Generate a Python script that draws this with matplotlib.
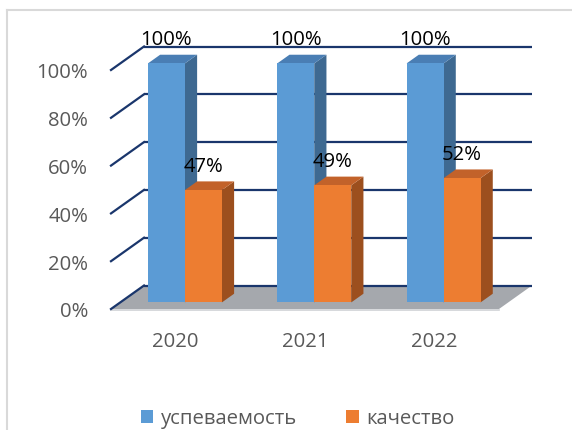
import matplotlib
matplotlib.use("Agg")
import matplotlib.pyplot as plt
from matplotlib.patches import Polygon, Patch
from matplotlib.lines import Line2D

categories = ["2020", "2021", "2022"]
series_names = ["успеваемость", "качество"]
uspevaemost = [100, 100, 100]
kachestvo = [47, 49, 52]
tick_values = [0, 20, 40, 60, 80, 100]
tick_labels = ["0%", "20%", "40%", "60%", "80%", "100%"]

plt.rcParams['font.family'] = ['Open Sans', 'DejaVu Sans']
FS = 14.6

W, H = 572, 431
fig = plt.figure(figsize=(W / 100, H / 100), dpi=100)
fig.patch.set_facecolor('white')

# front plane of the 3D box
L, R, B, T = 111, 499, 310, 71
ax = fig.add_axes([L / W, (H - B) / H, (R - L) / W, (B - T) / H])
ax.set_xlim(-0.5, len(categories) - 0.5)
ax.set_ylim(0, 100)
ax.patch.set_visible(False)
for s in ax.spines.values():
    s.set_visible(False)

cat_px = (R - L) / len(categories)
pct_px = (B - T) / 100.0
DX = 33 / cat_px        # depth offset (data units) for full depth
DY = 23.5 / pct_px

grid_c = '#1A366C'
floor_c = '#A5A8AD'

x0, x1 = -0.5, len(categories) - 0.5
# floor
ax.add_patch(Polygon([(x0, 0), (x1, 0), (x1 + DX, DY), (x0 + DX, DY)],
                     closed=True, facecolor=floor_c, edgecolor='none',
                     clip_on=False, zorder=1))
ax.add_line(Line2D([x0, x1], [-0.4, -0.4], color='#D0D2D5', lw=1.2,
                   clip_on=False, zorder=1))
# gridlines on back wall and side wall
for v in tick_values:
    ax.add_line(Line2D([x0 + DX, x1 + DX], [v + DY, v + DY], color=grid_c,
                       lw=1.6, clip_on=False, zorder=2, solid_capstyle='butt'))
    ax.add_line(Line2D([x0, x0 + DX], [v, v + DY], color=grid_c,
                       lw=1.6, clip_on=False, zorder=2))

# bars
d0, d1 = 0.28, 0.65
bw = 0.286
styles = [
    dict(face='#5B9BD5', side='#3E6991', top='#4A7EB4'),
    dict(face='#ED7D31', side='#9C4F1E', top='#C2622A'),
]
series = [uspevaemost, kachestvo]
z = 3
for i, cat in enumerate(categories):
    for k, vals in enumerate(series):
        v = vals[i]
        st = styles[k]
        xl = i - bw + k * bw
        xr = xl + bw
        fx0, fy0 = d0 * DX, d0 * DY
        bx0, by0 = d1 * DX, d1 * DY
        front = [(xl + fx0, fy0), (xr + fx0, fy0), (xr + fx0, v + fy0), (xl + fx0, v + fy0)]
        side = [(xr + fx0, fy0), (xr + bx0, by0), (xr + bx0, v + by0), (xr + fx0, v + fy0)]
        top = [(xl + fx0, v + fy0), (xr + fx0, v + fy0), (xr + bx0, v + by0), (xl + bx0, v + by0)]
        for poly, c in ((side, st['side']), (top, st['top']), (front, st['face'])):
            ax.add_patch(Polygon(poly, closed=True, facecolor=c, edgecolor='none',
                                 clip_on=False, zorder=z))
        z += 1
        ax.text((xl + xr) / 2 + fx0, v + fy0 + 10.2, f"{v}%", ha='center', va='center',
                fontsize=FS, color='black', zorder=50, clip_on=False)

ax.set_yticks(tick_values)
ax.set_yticklabels(tick_labels)
ax.set_xticks(range(len(categories)))
ax.set_xticklabels(categories)
ax.tick_params(axis='y', length=0, pad=16.5, labelsize=FS, labelcolor='#595959')
ax.tick_params(axis='x', length=0, pad=15.5, labelsize=FS, labelcolor='#595959')

# legend
handles = [Patch(facecolor=styles[k]['face'], edgecolor='none') for k in range(2)]
leg = fig.legend(handles, series_names, loc='center', bbox_to_anchor=(298 / W, (H - 419.5) / H),
                 ncol=2, frameon=False, fontsize=FS, handlelength=0.6, handleheight=0.6,
                 handletextpad=0.4, columnspacing=2.4, borderpad=0)
for t in leg.get_texts():
    t.set_color('#595959')

# chart frame
fig.add_artist(Line2D([7 / W, 7 / W], [0, (H - 11) / H], color='#D9D9D9', lw=1.5,
                      transform=fig.transFigure))
fig.add_artist(Line2D([7 / W, 1], [(H - 11) / H, (H - 11) / H], color='#D9D9D9', lw=1.5,
                      transform=fig.transFigure))

fig.savefig('out.png', dpi=100)
